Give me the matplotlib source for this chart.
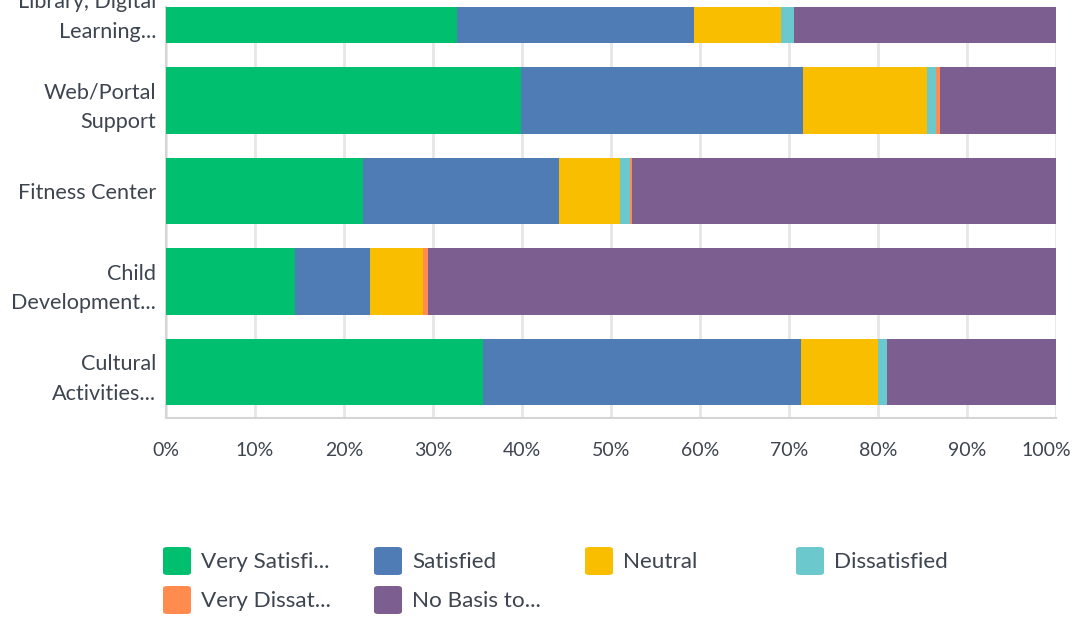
import matplotlib
matplotlib.use("Agg")
import matplotlib.pyplot as plt
from matplotlib.patches import FancyBboxPatch
from matplotlib.transforms import ScaledTranslation
import numpy as np

# categories, top to bottom
categories = ["Library, Digital\nLearning...", "Web/Portal\nSupport", "Fitness Center",
              "Child\nDevelopment...", "Cultural\nActivities..."]
series = ["Very Satisfi...", "Satisfied", "Neutral", "Dissatisfied",
          "Very Dissat...", "No Basis to..."]
colors = ["#00BF6F", "#507CB6", "#F9BE00", "#6BC8CD", "#FF8B4F", "#7D5E90"]

# percentages per category (same order as categories)
very_satisfied = [32.7, 39.9, 22.1, 14.5, 35.6]
satisfied = [26.6, 31.7, 22.1, 8.4, 35.7]
neutral = [9.8, 13.9, 6.8, 6.0, 8.7]
dissatisfied = [1.5, 1.0, 1.1, 0.0, 1.0]
very_dissatisfied = [0.0, 0.5, 0.3, 0.5, 0.0]
no_basis = [29.4, 13.0, 47.6, 70.6, 19.0]
values = [very_satisfied, satisfied, neutral, dissatisfied, very_dissatisfied, no_basis]

W, H = 1079, 618
fig = plt.figure(figsize=(W / 100, H / 100), dpi=100)
ax = fig.add_axes([166 / W, 1 - 418 / H, (1056 - 166) / W, (418 - 7) / H])

text_color = "#3d4550"

y = np.arange(len(categories))[::-1]
left = np.zeros(len(categories))
for vals, col, name in zip(values, colors, series):
    ax.barh(y, vals, left=left, height=0.73, color=col, label=name, zorder=3)
    left += np.array(vals)

ax.set_xlim(0, 100)
ax.set_ylim(-0.508, 4.033)
ax.set_xticks(np.arange(0, 101, 10))
ax.set_xticklabels([f"{v}%" for v in range(0, 101, 10)], fontsize=14, color=text_color, family="Lato")
ax.set_yticks(y)
ax.set_yticklabels(categories, fontsize=15.6, color=text_color, family="Lato", linespacing=1.6)
ax.tick_params(axis="both", length=0)
ax.tick_params(axis="x", pad=17)
ax.tick_params(axis="y", pad=7)
# keep the 100% label inside the figure
last = ax.get_xticklabels()[-1]
last.set_transform(last.get_transform() + ScaledTranslation(-0.1, 0, fig.dpi_scale_trans))
ax.grid(axis="x", color="#e6e6e6", linewidth=2, zorder=0)
for side in ["top", "right"]:
    ax.spines[side].set_visible(False)
for side in ["left", "bottom"]:
    ax.spines[side].set_color("#d5d5d5")
    ax.spines[side].set_linewidth(1.5)

# legend drawn by hand, 4 per row
for i, (name, col) in enumerate(zip(series, colors)):
    row, c = divmod(i, 4)
    x0 = 163 + c * 211
    yc = 561 + row * 39
    box = FancyBboxPatch(((x0) / W, 1 - (yc + 14) / H), 28 / W, 28 / H,
                         boxstyle="round,pad=0,rounding_size=0.004",
                         transform=fig.transFigure, facecolor=col, edgecolor="none")
    fig.patches.append(box)
    fig.text((x0 + 38) / W, 1 - (yc + 1) / H, name, fontsize=16.2, color=text_color,
             family="Lato", va="center", ha="left")

fig.savefig("out.png", dpi=100)
